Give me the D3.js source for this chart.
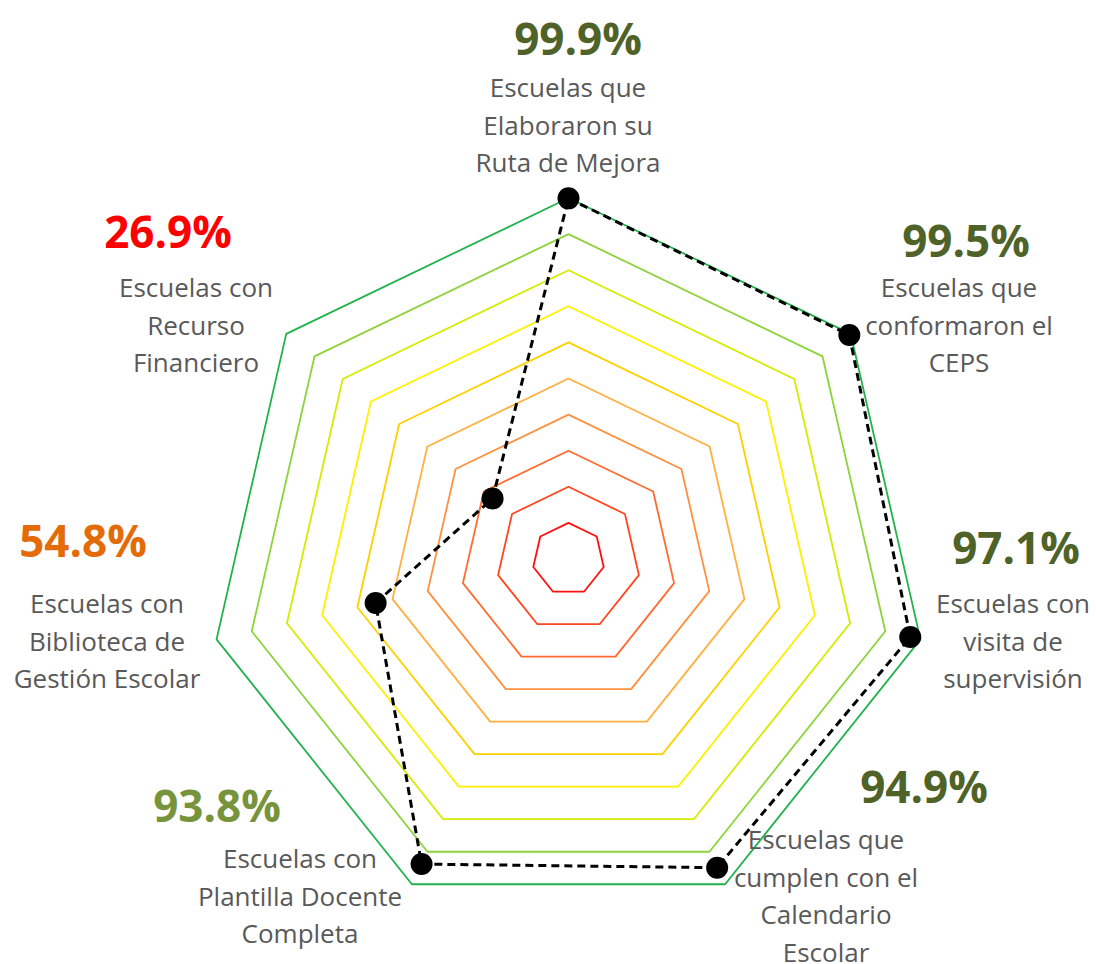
<!DOCTYPE html>
<html>
<head>
<meta charset="utf-8">
<script src="https://cdn.jsdelivr.net/npm/d3@7"></script>
<style>
  body { margin: 0; background: #fff; }
  svg { display: block; }
</style>
</head>
<body>
<div id="chart"></div>
<script>
// categories, clockwise from the top
const categories = [
  ["Escuelas que", "Elaboraron su", "Ruta de Mejora"],
  ["Escuelas que", "conformaron el", "CEPS"],
  ["Escuelas con", "visita de", "supervisión"],
  ["Escuelas que", "cumplen con el", "Calendario", "Escolar"],
  ["Escuelas con", "Plantilla Docente", "Completa"],
  ["Escuelas con", "Biblioteca de", "Gestión Escolar"],
  ["Escuelas con", "Recurso", "Financiero"]
];
const values = [99.9, 99.5, 97.1, 94.9, 93.8, 54.8, 26.9];
const valueColors = ["#4F6228", "#4F6228", "#4F6228", "#4F6228", "#77933C", "#E36C09", "#FF0000"];
const ringLevels = [10, 20, 30, 40, 50, 60, 70, 80, 90, 100];
const ringColors = ["#FF1010", "#FF4620", "#FF6A30", "#FF9040", "#FFB040", "#FFD000", "#FFF000", "#D4EC00", "#8DD33A", "#22B24C"];

// text box anchors (value centre/baseline, label centre/first baseline)
const labelPos = [
  {vx: 578, vy: 55, lx: 568, ly: 97},
  {vx: 966, vy: 257, lx: 959, ly: 297},
  {vx: 1016, vy: 564, lx: 1013, ly: 613},
  {vx: 924, vy: 803, lx: 826, ly: 849},
  {vx: 217, vy: 822, lx: 300, ly: 868},
  {vx: 83, vy: 557, lx: 107, ly: 613},
  {vx: 168, vy: 248, lx: 196, ly: 297}
];

const width = 1096, height = 964;
const cx = 568.5, cy = 559, radius = 361;
const n = categories.length;

const svg = d3.select("#chart").append("svg")
  .attr("width", width)
  .attr("height", height);

const g = svg.append("g").attr("transform", `translate(${cx},${cy})`);

const r = d3.scaleLinear().domain([0, 100]).range([0, radius]);
const angle = d3.scaleLinear().domain([0, n]).range([0, 2 * Math.PI]);

const ringLine = d3.lineRadial()
  .angle((d, i) => angle(i))
  .radius(d => r(d))
  .curve(d3.curveLinearClosed);

// rings
g.selectAll(".ring")
  .data(ringLevels)
  .enter().append("path")
  .attr("class", "ring")
  .attr("d", lv => ringLine(d3.range(n).map(() => lv)))
  .attr("fill", "none")
  .attr("stroke", (d, i) => ringColors[i])
  .attr("stroke-width", 1.8)
  .attr("stroke-linejoin", "round");

// series
const seriesLine = d3.lineRadial()
  .angle((d, i) => angle(i))
  .radius(d => r(d))
  .curve(d3.curveLinearClosed);

g.append("path")
  .datum(values)
  .attr("d", seriesLine)
  .attr("fill", "none")
  .attr("stroke", "#000")
  .attr("stroke-width", 3)
  .attr("stroke-dasharray", "8,5");

g.selectAll(".dot")
  .data(values)
  .enter().append("circle")
  .attr("class", "dot")
  .attr("cx", (d, i) => r(d) * Math.sin(angle(i)))
  .attr("cy", (d, i) => -r(d) * Math.cos(angle(i)))
  .attr("r", 11)
  .attr("fill", "#000");

// labels
const labels = svg.selectAll(".lbl")
  .data(categories)
  .enter().append("g")
  .attr("class", "lbl");

labels.append("text")
  .attr("x", (d, i) => labelPos[i].vx)
  .attr("y", (d, i) => labelPos[i].vy)
  .attr("text-anchor", "middle")
  .style("font-family", "'Open Sans', sans-serif")
  .style("font-weight", "bold")
  .style("font-size", "44px")
  .attr("fill", (d, i) => valueColors[i])
  .text((d, i) => values[i].toFixed(1) + "%");

labels.each(function(lines, i) {
  const t = d3.select(this).append("text")
    .attr("text-anchor", "middle")
    .style("font-family", "'Open Sans', sans-serif")
    .style("font-size", "26px")
    .attr("fill", "#595959");
  lines.forEach((ln, j) => {
    t.append("tspan")
      .attr("x", labelPos[i].lx)
      .attr("y", labelPos[i].ly + j * 37.5)
      .text(ln);
  });
});
</script>
</body>
</html>
